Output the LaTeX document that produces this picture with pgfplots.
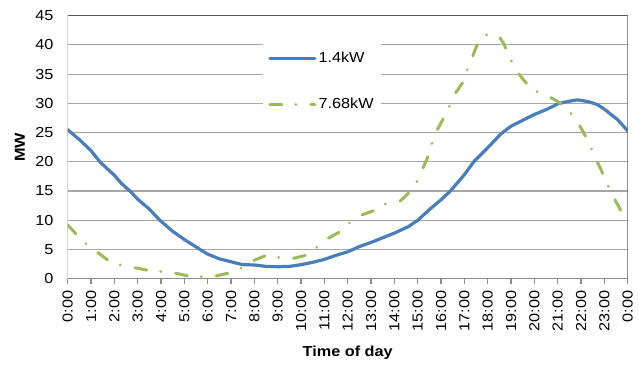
\documentclass[border=0pt]{standalone}
\usepackage{fontspec}
\setmainfont{Liberation Sans}[FakeStretch=1.12]
\usepackage{pgfplots}
\pgfplotsset{compat=1.18}
\usepackage{pgfplotstable}
\definecolor{blueS}{HTML}{4A7EBB}
\definecolor{greenS}{HTML}{9BBB59}
\definecolor{gridc}{HTML}{A6A6A6}
\definecolor{axisc}{HTML}{8C8C8C}
\definecolor{framec}{HTML}{5A5A5A}

\pgfplotstableread{
h v
0 25.5
0.5 23.8
1 21.9
1.38 20.0
1.75 18.6
2 17.7
2.3 16.3
2.67 15.0
3 13.6
3.5 11.9
3.95 10.0
4.5 8.1
5 6.7
5.67 5.0
6 4.2
6.5 3.4
7 2.9
7.5 2.4
8 2.35
8.5 2.1
9 2.05
9.5 2.1
10 2.4
10.5 2.8
11 3.3
11.5 4.0
12 4.6
12.5 5.5
13 6.2
13.5 7.0
14 7.8
14.6 8.9
15 10.0
15.55 12.0
16 13.5
16.4 15.0
17 17.8
17.4 20.0
17.7 21.2
18 22.4
18.57 24.8
19 26.1
19.55 27.2
20 28.1
20.55 29.0
21 29.9
21.4 30.3
21.85 30.6
22.3 30.3
22.7 29.8
23 29.0
23.57 27.2
24 25.3
}\lowtab

\pgfplotstableread{
h v
0 9.2
0.39 7.5
0.88 5.6
1.38 4.2
1.78 3.0
2.36 2.2
2.96 1.8
3.5 1.4
4.1 1.2
4.67 0.9
5.24 0.4
5.84 0.35
6.38 0.5
6.95 1.0
7.5 1.9
8.02 3.2
8.52 4.0
9.09 3.6
9.7 3.5
10.2 4.0
10.69 5.4
11.16 6.9
11.66 8.0
12.09 9.6
12.59 10.9
13.09 11.6
13.62 12.8
14.23 13.2
14.59 14.6
14.95 16.5
15.2 18.7
15.44 20.9
15.6 23.0
15.8 25.2
16.11 27.5
16.33 29.3
16.59 31.6
16.92 33.5
17.11 35.6
17.34 37.9
17.52 39.8
17.84 41.6
18.1 41.9
18.44 41.7
18.68 40.3
18.94 37.9
19.2 35.7
19.54 34.0
19.91 32.3
20.48 31.5
21.01 30.3
21.44 28.9
21.8 27.2
22.08 25.2
22.37 23.0
22.58 20.9
22.83 18.9
23.08 16.6
23.34 14.3
23.58 12.6
23.86 10.4
24 9.9
}\hightab

\begin{document}
\fontsize{14.5}{17}\selectfont
\begin{tikzpicture}
\begin{axis}[
  scale only axis, width=560pt, height=263pt,
  xmin=0, xmax=24, ymin=0, ymax=45,
  xtick={0,...,24},
  xticklabels={0:00,1:00,2:00,3:00,4:00,5:00,6:00,7:00,8:00,9:00,10:00,11:00,12:00,13:00,14:00,15:00,16:00,17:00,18:00,19:00,20:00,21:00,22:00,23:00,0:00},
  ytick={0,5,...,45},
  xtick pos=bottom,
  ytick pos=left,
  /pgf/number format/assume math mode=true,
  ymajorgrids,
  major grid style={draw=gridc, line width=1.1pt},
  axis line style={draw=none},
  tick align=outside,
  major tick length=5pt,
  xtick style={draw=axisc, line width=1.1pt},
  ytick style={draw=none},
  xticklabel style={rotate=90, anchor=east, inner sep=0pt},
  xticklabel shift=7pt,
  yticklabel style={inner sep=0pt},
  yticklabel shift=9pt,
  xlabel={\bfseries Time of day},
  ylabel={\bfseries MW},
  xlabel style={at={(axis description cs:0.5,-0.2966)}, anchor=base},
  ylabel style={at={(axis description cs:-0.0855,0.5)}, anchor=center},
  legend style={at={(axis description cs:0.349,0.915)}, anchor=north west,
    draw=none, fill=white, inner xsep=5pt, inner ysep=12pt, row sep=29pt,
    /tikz/every even column/.append style={column sep=4pt}},
  legend cell align=left,
  legend image code/.code={\draw[#1] (0pt,0pt) -- (45pt,0pt);},
]
\addplot[blueS, line width=3.2pt, line join=round, line cap=round] table[x=h,y=v] {\lowtab};
\addlegendentry{1.4kW}
\addplot[greenS, line width=3pt, line join=round, line cap=round,
  dash pattern=on 12pt off 14pt on 0.01pt off 15pt] table[x=h,y=v] {\hightab};
\addlegendentry{7.68kW}
\draw[axisc, line width=1.1pt] (rel axis cs:0,1) -- (rel axis cs:0,0) -- (rel axis cs:1,0);
\draw[framec, line width=1.1pt] (rel axis cs:0,1) -- (rel axis cs:1,1) -- (rel axis cs:1,0);
\end{axis}
\path (current axis.south west) ++(-67.7pt,-83.3pt);
\path (current axis.north east) ++(11.3pt,15.7pt);
\end{tikzpicture}
\end{document}
